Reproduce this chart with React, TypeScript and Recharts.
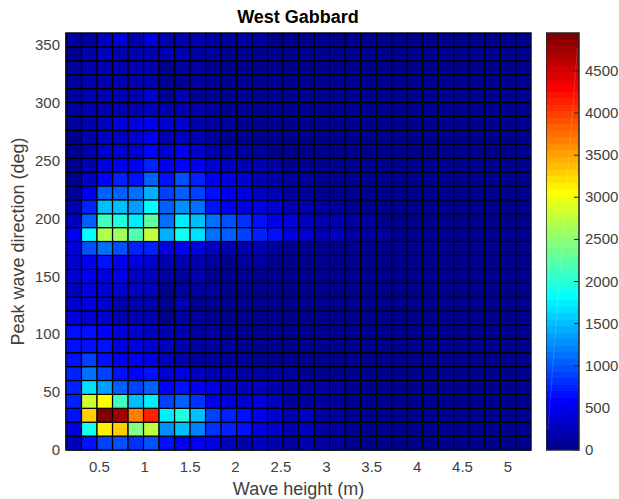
import { ComposedChart, Area, ReferenceArea, ReferenceLine, Scatter, ScatterChart, XAxis, YAxis, Label } from "recharts"

const waveHeights = [
  0.218, 0.389, 0.56, 0.731, 0.902, 1.072, 1.243, 1.414, 1.585, 1.756,
  1.927, 2.097, 2.268, 2.439, 2.61, 2.781, 2.952, 3.122, 3.293, 3.464,
  3.635, 3.806, 3.977, 4.147, 4.318, 4.489, 4.66, 4.831, 5.002, 5.172,
]
const directions = [
  6, 18, 30, 42, 54, 66, 78, 90, 102, 114, 126, 138, 150, 162, 174,
  186, 198, 210, 222, 234, 246, 258, 270, 282, 294, 306, 318, 330, 342, 354,
]
// one row per direction, bottom to top, one value per wave height
const counts = [
  [300, 620, 900, 950, 810, 950, 620, 540, 540, 400, 300, 210, 280, 200, 110, 200, 110, 110, 70, 60, 50, 50, 50, 50, 45, 45, 50, 45, 45, 50],
  [450, 1900, 3094, 3270, 2430, 2780, 1250, 1470, 1230, 810, 720, 620, 450, 350, 160, 300, 110, 150, 70, 60, 55, 50, 50, 50, 50, 45, 50, 50, 45, 50],
  [620, 3250, 4950, 4790, 3650, 4140, 1736, 2005, 1470, 910, 765, 620, 480, 350, 160, 250, 110, 110, 70, 60, 50, 50, 50, 45, 50, 50, 45, 50, 50, 45],
  [770, 2830, 3020, 2100, 1540, 1740, 860, 1010, 810, 540, 450, 350, 400, 250, 110, 110, 110, 110, 60, 55, 50, 50, 45, 50, 45, 50, 50, 45, 50, 50],
  [770, 1690, 1370, 1010, 910, 1010, 600, 620, 500, 400, 300, 250, 300, 200, 110, 90, 90, 80, 60, 50, 50, 45, 50, 50, 45, 45, 50, 50, 45, 50],
  [770, 1150, 860, 640, 600, 670, 350, 400, 300, 200, 160, 110, 110, 90, 80, 70, 60, 60, 50, 50, 45, 50, 45, 50, 50, 45, 45, 50, 45, 45],
  [670, 860, 640, 540, 500, 450, 250, 200, 150, 110, 90, 90, 70, 60, 60, 50, 50, 50, 50, 45, 50, 45, 50, 45, 45, 50, 45, 45, 50, 45],
  [620, 670, 640, 450, 400, 350, 250, 200, 110, 100, 80, 70, 60, 60, 50, 50, 50, 45, 45, 50, 45, 50, 45, 50, 45, 45, 50, 45, 45, 50],
  [620, 640, 600, 400, 350, 300, 205, 155, 110, 90, 70, 60, 60, 50, 50, 50, 45, 45, 50, 45, 45, 50, 45, 45, 50, 45, 45, 50, 45, 45],
  [420, 375, 350, 230, 155, 180, 60, 110, 80, 70, 60, 60, 50, 50, 50, 45, 50, 45, 45, 50, 45, 45, 50, 45, 45, 50, 45, 45, 50, 45],
  [350, 400, 330, 230, 155, 180, 60, 155, 70, 70, 60, 50, 50, 50, 45, 50, 45, 45, 50, 45, 50, 45, 45, 50, 45, 45, 50, 45, 45, 50],
  [300, 420, 350, 375, 250, 280, 60, 80, 110, 80, 60, 60, 50, 50, 50, 45, 50, 45, 45, 50, 45, 45, 50, 45, 50, 45, 45, 50, 45, 45],
  [330, 470, 400, 470, 280, 250, 130, 130, 155, 60, 60, 60, 50, 50, 45, 50, 45, 50, 45, 45, 50, 45, 45, 50, 45, 45, 50, 45, 50, 45],
  [375, 520, 620, 470, 400, 375, 180, 230, 230, 130, 60, 130, 107, 60, 50, 50, 50, 45, 50, 45, 45, 50, 45, 45, 50, 45, 50, 45, 45, 50],
  [450, 960, 1150, 960, 720, 770, 450, 470, 400, 300, 200, 200, 155, 110, 70, 70, 60, 60, 50, 50, 45, 50, 45, 50, 45, 50, 45, 45, 50, 45],
  [470, 1780, 2630, 2580, 2200, 2780, 1395, 1900, 1640, 1150, 1060, 910, 720, 620, 400, 330, 205, 300, 110, 130, 110, 70, 60, 60, 55, 50, 50, 50, 45, 50],
  [300, 1060, 2100, 2005, 1760, 2290, 1150, 1760, 1540, 1100, 960, 810, 670, 540, 400, 250, 200, 180, 90, 80, 70, 60, 55, 50, 50, 45, 50, 45, 50, 45],
  [180, 770, 1520, 1540, 1370, 1830, 1060, 1250, 1100, 620, 540, 450, 430, 350, 180, 200, 110, 90, 70, 60, 55, 50, 50, 50, 45, 45, 50, 50, 45, 45],
  [110, 470, 1060, 1060, 1130, 1420, 860, 1060, 910, 620, 500, 400, 300, 200, 110, 90, 70, 60, 60, 50, 50, 50, 45, 50, 45, 50, 45, 45, 50, 45],
  [60, 300, 560, 720, 670, 1030, 620, 960, 770, 540, 420, 330, 230, 200, 110, 80, 60, 50, 50, 50, 45, 50, 45, 45, 50, 45, 50, 45, 45, 50],
  [40, 155, 450, 470, 540, 720, 470, 600, 470, 350, 280, 200, 155, 80, 60, 50, 50, 50, 45, 50, 45, 45, 50, 45, 45, 50, 45, 50, 45, 45],
  [60, 155, 375, 375, 375, 560, 375, 470, 375, 230, 180, 110, 90, 60, 50, 50, 45, 50, 45, 45, 50, 45, 45, 50, 45, 45, 50, 45, 45, 50],
  [60, 155, 280, 300, 375, 520, 205, 280, 230, 80, 60, 60, 50, 50, 50, 45, 50, 45, 50, 45, 45, 50, 45, 45, 50, 45, 45, 50, 45, 45],
  [80, 180, 300, 400, 400, 520, 350, 350, 205, 100, 80, 60, 60, 50, 50, 50, 45, 45, 50, 45, 50, 45, 45, 50, 45, 50, 45, 45, 50, 45],
  [80, 155, 155, 230, 155, 300, 180, 205, 205, 80, 60, 60, 55, 50, 45, 50, 45, 50, 45, 45, 50, 45, 50, 45, 45, 50, 45, 45, 50, 45],
  [100, 180, 180, 180, 180, 350, 40, 180, 70, 60, 60, 40, 50, 45, 50, 45, 45, 50, 45, 50, 45, 45, 50, 45, 50, 45, 45, 50, 45, 45],
  [80, 180, 180, 205, 180, 230, 40, 60, 80, 60, 60, 40, 50, 50, 45, 45, 50, 45, 50, 45, 45, 50, 45, 45, 50, 45, 50, 45, 45, 50],
  [80, 180, 180, 205, 155, 230, 60, 80, 80, 60, 70, 60, 50, 45, 50, 45, 45, 50, 45, 45, 50, 45, 45, 50, 45, 45, 50, 45, 45, 50],
  [60, 155, 280, 205, 155, 200, 155, 180, 80, 80, 60, 60, 55, 50, 45, 50, 45, 50, 45, 50, 45, 45, 50, 45, 50, 45, 45, 50, 45, 45],
  [80, 130, 280, 400, 230, 420, 180, 180, 180, 110, 110, 80, 110, 70, 60, 50, 50, 45, 50, 45, 50, 45, 45, 50, 45, 50, 45, 45, 50, 45],
]
const xTicks = [0.5, 1, 1.5, 2, 2.5, 3, 3.5, 4, 4.5, 5]
const yTicks = [0, 50, 100, 150, 200, 250, 300, 350]
const colorTicks = [0, 500, 1000, 1500, 2000, 2500, 3000, 3500, 4000, 4500]
const colorMax = 4950
const colorbarEnds = [{ pos: 0, top: colorMax }, { pos: 1, top: colorMax }]

const textColor = "#404040"
const font = "'Liberation Sans', Arial, sans-serif"
const plotW = 465
const plotH = 417
const cellW = plotW / waveHeights.length
const cellH = plotH / directions.length

function jet(t: number) {
  const ch = (v: number) => Math.round(255 * Math.max(0, Math.min(1, v)))
  const r = ch(Math.min(4 * t - 1.5, -4 * t + 4.5))
  const g = ch(Math.min(4 * t - 0.5, -4 * t + 3.5))
  const b = ch(Math.min(4 * t + 0.5, -4 * t + 2.5))
  return `rgb(${r},${g},${b})`
}
// 64 level jet, same steps as the colorbar
const levelColor = (v: number) => jet((Math.min(63, Math.floor((v / colorMax) * 64)) + 1) / 64)

const cells = directions.flatMap((direction, r) =>
  waveHeights.map((height, c) => ({ height, direction, count: counts[r][c] })),
)

function HeatCell({ cx, cy, payload }: any) {
  return (
    <rect x={cx - cellW / 2} y={cy - cellH / 2} width={cellW} height={cellH}
      fill={levelColor(payload.count)} stroke="#000" strokeWidth={1.2} />
  )
}

function ColorTick({ x, y, payload }: any) {
  return (
    <g>
      <line x1={x - 11} x2={x - 6} y1={y} y2={y} stroke="#262626" strokeWidth={1} />
      <text x={x} y={y + 5} fontSize={15} fill={textColor} fontFamily={font}>{payload.value}</text>
    </g>
  )
}

export default function App() {
  return (
    <div style={{ position: "absolute", left: 0, top: 0, width: 619, height: 499, background: "#fff", fontFamily: font }}>
      <div style={{ position: "absolute", left: 0, top: 7, width: 596, textAlign: "center", fontSize: 18, fontWeight: 700, color: "#000" }}>
        West Gabbard
      </div>
      <ScatterChart width={619} height={499} margin={{ top: 33, right: 88, bottom: 0, left: 0 }}
        style={{ position: "absolute", left: 0, top: 0 }}>
        <XAxis type="number" dataKey="height" domain={[0.133, 5.254]} ticks={xTicks} allowDataOverflow
          height={49} tickLine={false} axisLine={{ stroke: "#000" }} interval={0} tickMargin={5}
          tick={{ fontSize: 15, fill: textColor, fontFamily: font }}>
          <Label value="Wave height (m)" position="insideBottom" offset={4} style={{ fontSize: 18, fill: textColor, fontFamily: font }} />
        </XAxis>
        <YAxis type="number" dataKey="direction" domain={[0, 360]} ticks={yTicks} allowDataOverflow
          width={66} tickLine={false} axisLine={{ stroke: "#000" }} interval={0} tickMargin={0}
          tick={{ fontSize: 15, fill: textColor, fontFamily: font }}>
          <Label value="Peak wave direction (deg)" angle={-90} position="insideLeft" offset={18}
            style={{ fontSize: 18, fill: textColor, fontFamily: font, textAnchor: "middle" }} />
        </YAxis>
        <Scatter data={cells} shape={HeatCell} isAnimationActive={false} />
        <ReferenceArea x1={0.133} x2={5.254} y1={0} y2={360} fill="none" stroke="#111" strokeWidth={1.5} />
      </ScatterChart>
      <div style={{ position: "absolute", left: 546, top: 0 }}>
        <ComposedChart width={73} height={499} data={colorbarEnds} margin={{ top: 33, right: 0, bottom: 49, left: 0 }}>
          <defs>
            <linearGradient id="jetBar" x1="0" y1="1" x2="0" y2="0">
              {Array.from({ length: 64 }).flatMap((_, i) => [
                <stop key={`a${i}`} offset={i / 64} stopColor={jet((i + 1) / 64)} />,
                <stop key={`b${i}`} offset={(i + 1) / 64} stopColor={jet((i + 1) / 64)} />,
              ])}
            </linearGradient>
          </defs>
          <XAxis type="number" dataKey="pos" domain={[0, 1]} hide />
          <YAxis orientation="right" domain={[0, colorMax]} ticks={colorTicks} allowDataOverflow width={40}
            interval={0} tickLine={false} axisLine={false} tick={ColorTick} tickMargin={0} />
          <Area dataKey="top" type="linear" stroke="none" fill="url(#jetBar)" fillOpacity={1} isAnimationActive={false} dot={false} activeDot={false} />
          <ReferenceLine segment={[{ x: 0.95, y: 4775 }, { x: 0.06, y: 240 }]} stroke="#fff" strokeOpacity={0.15} />
          <ReferenceArea x1={0} x2={1} y1={0} y2={colorMax} fill="none" stroke="#262626" strokeWidth={1.5} />
        </ComposedChart>
      </div>
    </div>
  )
}
